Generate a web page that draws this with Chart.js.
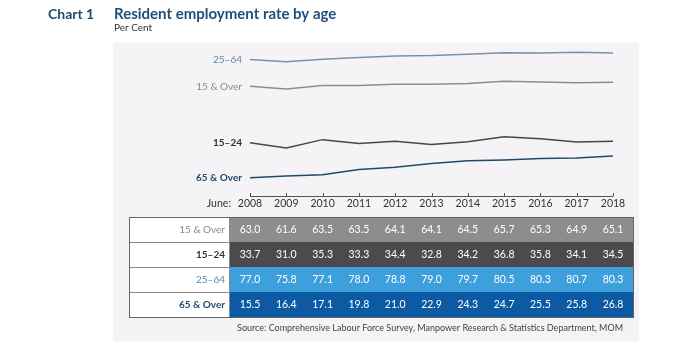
<!DOCTYPE html>
<html>
<head>
<meta charset="utf-8">
<script src="https://cdn.jsdelivr.net/npm/chart.js@4.4.1/dist/chart.umd.min.js"></script>
<style>
  html, body { margin: 0; padding: 0; background: #fff; }
  #wrap { width: 682px; height: 344px; position: relative; }
</style>
</head>
<body>
<div id="wrap"><canvas id="myChart" width="682" height="344"></canvas></div>
<script>
// data
const years = ['2008', '2009', '2010', '2011', '2012', '2013', '2014', '2015', '2016', '2017', '2018'];
const over15 = [63.0, 61.6, 63.5, 63.5, 64.1, 64.1, 64.5, 65.7, 65.3, 64.9, 65.1];
const age15to24 = [33.7, 31.0, 35.3, 33.3, 34.4, 32.8, 34.2, 36.8, 35.8, 34.1, 34.5];
const age25to64 = [77.0, 75.8, 77.1, 78.0, 78.8, 79.0, 79.7, 80.5, 80.3, 80.7, 80.3];
const over65 = [15.5, 16.4, 17.1, 19.8, 21.0, 22.9, 24.3, 24.7, 25.5, 25.8, 26.8];

const FONT = 'Lato, "Open Sans", sans-serif';

// series in table order
const series = [
    { label: '15 & Over', data: over15, line: '#8c8c8c', text: '#8a8a8a', bold: false, cell: '#8d8d8d' },
    { label: '15\u201324', data: age15to24, line: '#474747', text: '#333333', bold: true, cell: '#4b4b4b' },
    { label: '25\u201364', data: age25to64, line: '#7193ad', text: '#5f88aa', bold: false, cell: '#3d9fdc' },
    { label: '65 & Over', data: over65, line: '#1f4a66', text: '#1f4a6a', bold: true, cell: '#0b5aa3' }
];

const decorPlugin = {
    id: 'decor',
    beforeDraw(chart) {
        const c = chart.ctx;
        c.save();
        c.fillStyle = '#fff';
        c.fillRect(0, 0, chart.width, chart.height);
        // light panel behind chart + table
        c.fillStyle = '#f6f3f7';
        c.fillRect(113, 43, 526, 298);
        c.restore();
    },
    afterDraw(chart) {
        const c = chart.ctx;
        const x = chart.scales.x;
        const area = chart.chartArea;
        c.save();

        // titles
        c.textBaseline = 'alphabetic';
        c.textAlign = 'left';
        c.fillStyle = '#1d4d6b';
        c.font = 'bold 14px ' + FONT;
        c.fillText('Chart 1', 48, 19);
        c.fillStyle = '#1f4f7a';
        c.font = 'bold 15px ' + FONT;
        c.fillText('Resident employment rate by age', 114, 19);
        c.fillStyle = '#333';
        c.font = '10px ' + FONT;
        c.fillText('Per Cent', 114, 31);

        // series labels at the start of each line
        c.textAlign = 'right';
        c.textBaseline = 'middle';
        chart.data.datasets.forEach((ds, i) => {
            const s = series[i];
            const y = chart.getDatasetMeta(i).data[0].y;
            c.fillStyle = s.text;
            c.font = (s.bold ? 'bold ' : '') + '10px ' + FONT;
            c.fillText(s.label, area.left - 8, y);
        });

        // x axis line + ticks
        const axisY = area.bottom;
        c.strokeStyle = '#555';
        c.lineWidth = 1;
        c.beginPath();
        c.moveTo(x.getPixelForValue(0), axisY + 0.5);
        c.lineTo(x.getPixelForValue(years.length - 1), axisY + 0.5);
        years.forEach((yr, i) => {
            const px = Math.round(x.getPixelForValue(i)) + 0.5;
            c.moveTo(px, axisY - 3);
            c.lineTo(px, axisY + 0.5);
        });
        c.stroke();

        // year labels
        c.fillStyle = '#333';
        c.font = '10.5px ' + FONT;
        c.textAlign = 'center';
        years.forEach((yr, i) => c.fillText(yr, x.getPixelForValue(i), 204));
        c.textAlign = 'right';
        c.fillText('June:', 231, 204);

        // data table
        const tTop = 217, rowH = 25, tLeft = 129, labRight = 229, tRight = 633;
        series.forEach((s, r) => {
            const ry = tTop + r * rowH;
            c.fillStyle = '#fff';
            c.fillRect(tLeft, ry, labRight - tLeft, rowH);
            c.fillStyle = s.cell;
            c.fillRect(labRight, ry, tRight - labRight, rowH);
            c.strokeStyle = '#8a8a8a';
            c.lineWidth = 1;
            c.strokeRect(tLeft + 0.5, ry + 0.5, labRight - tLeft, rowH);
            c.fillStyle = s.text;
            c.font = (s.bold ? 'bold ' : '') + '10px ' + FONT;
            c.textAlign = 'right';
            c.fillText(s.label, labRight - 4, ry + rowH / 2);
            c.fillStyle = '#fff';
            c.font = '10.5px ' + FONT;
            c.textAlign = 'center';
            s.data.forEach((v, i) => c.fillText(v.toFixed(1), x.getPixelForValue(i), ry + rowH / 2));
        });
        c.strokeStyle = '#666';
        c.lineWidth = 1;
        c.strokeRect(tLeft + 0.5, tTop + 0.5, tRight - tLeft, rowH * series.length);

        // source
        c.fillStyle = '#444';
        c.font = '9px ' + FONT;
        c.textAlign = 'right';
        c.fillText('Source: Comprehensive Labour Force Survey, Manpower Research & Statistics Department, MOM', 623, 328);

        c.restore();
    }
};

const ctx = document.getElementById('myChart').getContext('2d');

const myChart = new Chart(ctx, {
    type: 'line',
    data: {
        labels: years,
        datasets: series.map(s => ({
            label: s.label,
            data: s.data,
            borderColor: s.line,
            borderWidth: 1.5,
            pointRadius: 0,
            tension: 0,
            fill: false
        }))
    },
    options: {
        responsive: false,
        animation: false,
        layout: {
            padding: { left: 250, right: 69, top: 45, bottom: 148 }
        },
        scales: {
            x: { display: false, offset: false },
            y: { display: false, min: 6, max: 84.5 }
        },
        plugins: {
            legend: { display: false },
            tooltip: { enabled: false }
        }
    },
    plugins: [decorPlugin]
});
</script>
</body>
</html>
